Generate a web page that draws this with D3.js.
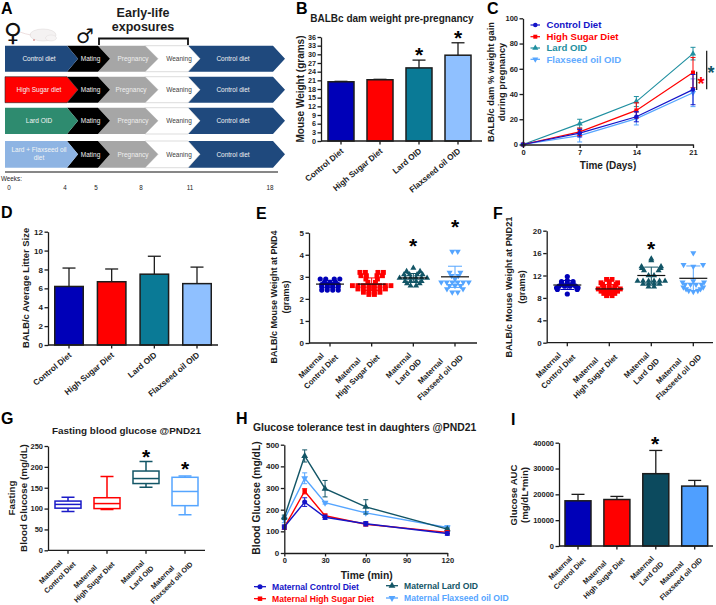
<!DOCTYPE html>
<html><head><meta charset="utf-8">
<script src="https://cdn.jsdelivr.net/npm/d3@7"></script>
<style>
html,body{margin:0;padding:0;background:#fff}
svg{display:block}
text{font-family:"Liberation Sans",Arial,sans-serif;fill:#1c1c1c}
</style></head><body>
<svg id="c" width="716" height="605"></svg>
<script>
// ---------- data ----------
const dietCats = ["Control Diet","High Sugar Diet","Lard OID","Flaxseed oil OID"];
const matCats = [["Maternal","Control Diet"],["Maternal","High Sugar Diet"],["Maternal","Lard OID"],["Maternal","Flaxseed oil OID"]];
const damWeight = [20.5,21.2,25.3,29.7];
const damWeightTop = [20.65,21.35,28,34];
const litter = [6.2,6.7,7.5,6.5];
const litterTop = [8.15,8.05,9.4,8.25];
const auc = [17500,18000,28000,23200];
const aucTop = [20000,19200,37000,25400];
const gainDays = [0,7,14,21];
const gainControl = [0,9,22,43.5], gainControlSd = [0,3,4,12];
const gainSugar = [0,10,27,57], gainSugarSd = [0,3,6,12];
const gainLard = [0,16.5,34,72], gainLardSd = [0,3.5,4,5];
const gainFlax = [0,7,20.5,41], gainFlaxSd = [0,5,5,11];
const pnd4Control = [2.9,2.9,2.9,2.9,2.75,2.75,2.75,2.65,2.65,2.65,2.65,2.55,2.55,2.55,2.55,2.4,2.4,2.4,2.4];
const pnd4Sugar = [3.2,3.2,3.2,3.2,3.05,3.05,3.05,3.05,2.9,2.9,2.75,2.75,2.6,2.6,2.6,2.6,2.6,2.6,2.6,2.6,2.45,2.45,2.45,2.45,2.45,2.45,2.3,2.3,2.3,2.3,2.2,2.2];
const pnd4Lard = [3.4,3.25,3.25,3.1,3.1,3.1,3.1,2.95,2.95,2.95,2.95,2.95,2.95,2.8,2.8,2.8,2.8,2.7,2.7,2.6,2.6];
const pnd4Flax = [4.15,4.15,3.2,3.2,3.05,3.05,2.9,2.75,2.75,2.75,2.75,2.75,2.75,2.6,2.6,2.6,2.45,2.45,2.3,2.3];
const pnd4Stats = [[2.67,0.17],[2.67,0.28],[2.95,0.2],[3.0,0.48]];
const pnd21Control = [11.8,11.1,10.9,10.9,10.6,10.6,10.6,10.4,10.4,10.4,10.1,10.1,10.1,10.1,9.8,9.8,9.5,9.5,8.7];
const pnd21Sugar = [11.3,11.3,10.9,10.7,10.7,10.4,10.4,10,10,10,9.6,9.6,9.6,9.6,9.6,9.2,9.2,9.2,9.2,8.8,8.8,8.8,8.4,8.4];
const pnd21Lard = [15,14.7,13.6,13.6,13.3,13.3,12.9,12.9,12,12,11,11,11,11,11,11,10.5,10.5,10.5,10.5,10,10];
const pnd21Flax = [16,13.9,13.9,13.6,11,10.8,10.8,10.4,10.4,10.4,10.4,9.9,9.9,9.6,9.6,9.3,9.3,9.1];
const pnd21Stats = [[10.3,0.8],[9.6,0.8],[12,1.5],[11.5,2.2]];
const fastingBoxes = [[93,101,110,118,127],[98,100,112,126,177],[151,160,172,190,213],[85,107,141,175,178]];
const gttTimes = [0,15,30,60,120];
const gttControl = [120,235,165,135,90], gttControlErr = [10,20,10,10,8];
const gttSugar = [118,285,172,133,95], gttSugarErr = [8,12,8,8,5];
const gttLard = [165,448,297,213,110], gttLardErr = [10,28,38,33,5];
const gttFlax = [155,345,232,185,118], gttFlaxErr = [15,25,6,5,8];
const scheduleDiets = ["Control diet","High Sugar diet","Lard OID","Lard + Flaxseed oil diet"];
const scheduleStages = ["Mating","Pregnancy","Weaning","Control diet"];
const weekLabels = [0,4,5,8,11,18];

// ---------- shared ----------
const svg = d3.select("#c");
const BLUE="#0000b8",RED="#ff0000",TEAL="#0a7a96",SKY="#8fc0ff",DTEAL="#125566",LBLUE="#55a5ff",INK="#1c1c1c";
const sw=1.3;
function txt(x,y,s,size,o={}){
  const t=svg.append("text").attr("x",x).attr("y",y).text(s).attr("font-size",size)
    .attr("font-weight",o.weight||"bold").attr("text-anchor",o.anchor||"start");
  if(o.fill)t.style("fill",o.fill);
  if(o.rot!=null)t.attr("transform",`rotate(${o.rot},${x},${y})`);
  if(o.family)t.style("font-family",o.family);
  return t;
}
function star(x,y,fill,size){
  const s=size||21;
  txt(x,y+s*0.47,"*",s,{anchor:"middle",fill:fill||"#000"});
}
function styleAxis(g,fs){
  g.selectAll("path,line").attr("stroke",INK).attr("stroke-width",sw);
  g.selectAll("text").attr("font-size",fs).attr("font-weight","bold").style("fill",INK).attr("font-family",null);
}
function yAxis(xPos,scale,ticks,fs){
  const a=d3.axisLeft(scale).tickValues(ticks).tickSize(3.5).tickPadding(1.5).tickSizeOuter(0).tickFormat(d3.format("d"));
  const g=svg.append("g").attr("transform",`translate(${xPos},0)`).call(a);
  styleAxis(g,fs);
}
function catAxis(yPos,xs,x0,xEnd,labels,fs,two){
  svg.append("line").attr("x1",x0).attr("x2",xEnd).attr("y1",yPos).attr("y2",yPos).attr("stroke",INK).attr("stroke-width",sw);
  const g=svg.append("g");
  labels.forEach((l,i)=>{
    const cx=xs(i);
    g.append("line").attr("x1",cx).attr("x2",cx).attr("y1",yPos).attr("y2",yPos+3.5).attr("stroke",INK).attr("stroke-width",sw);
    if(two){
      const b=g.append("g");
      const lh=fs*1.45;
      const ts=l.map((s,k)=>b.append("text").text(s).attr("font-size",fs).attr("font-weight","bold")
        .attr("text-anchor","middle").attr("y",(k==0?-lh/2:lh/2)+fs*0.35));
      const L=ts.map(t=>t.node().getComputedTextLength());
      const m=d3.max(L);
      ts[0].attr("x",-m/2-2.5);
      ts[1].attr("x",-m/2);
      const down=L[0]>=L[1]-3?4:0;
      b.attr("transform",`translate(${cx+2.6},${yPos+9+down}) rotate(-45)`);
    } else {
      txt(cx+3,yPos+11,l,fs,{anchor:"end",rot:-40});
    }
  });
}
function barPanel(o){
  const y=d3.scaleLinear().domain(o.dom).range([o.y0,o.yT]);
  const xs=d3.scalePoint().domain(d3.range(o.vals.length)).range([o.c0,o.c3]);
  const g=svg.append("g");
  g.selectAll("line.e").data(o.vals).join("line").attr("class","e").attr("x1",(d,i)=>xs(i)).attr("x2",(d,i)=>xs(i))
    .attr("y1",d=>y(d)).attr("y2",(d,i)=>y(o.tops[i])).attr("stroke",INK).attr("stroke-width",sw);
  g.selectAll("line.c").data(o.tops).join("line").attr("class","c").attr("x1",(d,i)=>xs(i)-6.5).attr("x2",(d,i)=>xs(i)+6.5)
    .attr("y1",d=>y(d)).attr("y2",d=>y(d)).attr("stroke",INK).attr("stroke-width",sw);
  g.selectAll("rect").data(o.vals).join("rect").attr("x",(d,i)=>xs(i)-o.w/2).attr("width",o.w)
    .attr("y",d=>y(d)).attr("height",d=>o.y0-y(d)).attr("fill",(d,i)=>o.colors[i]).attr("stroke",INK).attr("stroke-width",1.5);
  yAxis(o.ax,y,o.ticks,o.tfs);
  catAxis(o.y0,xs,o.ax,o.end,o.cats,o.cfs,o.two);
}
function sym(type,size){return d3.symbol().type(type).size(size)();}
const triDown=d3.symbolTriangle;

// ---------- A: schedule ----------
(function(){
  const rows=[[45.7,71.7],[76.7,102.7],[107.7,134],[141,167.7]];
  const firstCol=["#1f497d","#ff0000","#2e8b6f","#8eb4e3"];
  const tips=[78,110,158,200,285], sh=[67,98,145,188,273];
  const stageCol=["#000","#a6a6a6","#ffffff","#1f497d"];
  const stageTxt=["#f2f2f2","#efefef","#404040","#f2f2f2"];
  const stageCx=[90.5,133,179,233];
  const line=d3.line();
  rows.forEach((r,ri)=>{
    const [t,b]=r,m=(t+b)/2;
    for(let s=3;s>=0;s--){
      const p=[[sh[s],t],[sh[s+1],t],[tips[s+1],m],[sh[s+1],b],[sh[s],b],[tips[s],m]];
      svg.append("path").attr("d",line(p)+"Z").attr("fill",stageCol[s]).attr("stroke",s==2?"#bbb":"none").attr("stroke-width",.5);
      if(s>0)txt(stageCx[s]-(ri==1&&s==1?2:0),m+2.2,scheduleStages[s],6.5,{anchor:"middle",weight:"normal",fill:stageTxt[s]});
    }
    const p0=[[5,t],[sh[0],t],[tips[0],m],[sh[0],b],[5,b]];
    svg.append("path").attr("d",line(p0)+"Z").attr("fill",firstCol[ri]).attr("stroke",ri==1?"#222":"none").attr("stroke-width",.6);
    if(ri==3){
      txt(39,m-2.5,"Lard + Flaxseed oil",6.5,{anchor:"middle",weight:"normal",fill:"#f4f4f4"});
      txt(39,m+6,"diet",6.5,{anchor:"middle",weight:"normal",fill:"#f4f4f4"});
    } else txt(39,m+2.2,scheduleDiets[ri],6.5,{anchor:"middle",weight:"normal",fill:"#f4f4f4"});
    txt(stageCx[0],m+2.2,scheduleStages[0],6.5,{anchor:"middle",weight:"normal",fill:stageTxt[0]});
  });
  svg.append("line").attr("x1",5).attr("x2",278).attr("y1",172).attr("y2",172).attr("stroke","#111").attr("stroke-width",1.2);
  txt(1,181,"Weeks:",6.3,{weight:"normal"});
  const wx=d3.scaleOrdinal().domain(weekLabels).range([9,65,96,141,190,270]);
  weekLabels.forEach(w=>txt(wx(w),190,w,6.3,{anchor:"middle",weight:"normal"}));
  txt(143,17,"Early-life",12.5,{anchor:"middle"});
  txt(143,31,"exposures",12.5,{anchor:"middle"});
  svg.append("path").attr("d","M99,45V38.5H188V45").attr("fill","none").attr("stroke","#111").attr("stroke-width",1.8);
  txt(13,41,"\u2640",25,{anchor:"middle",family:"DejaVu Sans",fill:"#111"});
  txt(85,43,"\u2642",20,{anchor:"middle",family:"DejaVu Sans",fill:"#111"});
  svg.append("ellipse").attr("cx",43).attr("cy",35).attr("rx",13).attr("ry",6).attr("fill","#f4f2f2").attr("stroke","#e0dcdc").attr("stroke-width",.6);
  svg.append("ellipse").attr("cx",51).attr("cy",38).attr("rx",5.5).attr("ry",3).attr("fill","#f6f4f4").attr("stroke","#e0dcdc").attr("stroke-width",.5);
  svg.append("path").attr("d","M31,35Q25,34 20,32").attr("fill","none").attr("stroke","#e6d2d2").attr("stroke-width",.7);
  svg.append("circle").attr("cx",34).attr("cy",40).attr("r",1).attr("fill","#d89a9a");
})();

// panel letters
[["A",1,14],["B",296,14],["C",487,14],["D",1,218],["E",256,218.5],["F",493,219],["G",1,424],["H",236,424],["I",511,425]]
  .forEach(d=>txt(d[1],d[2],d[0],16,{fill:"#000"}));

// ---------- B ----------
txt(392,22,"BALBc dam weight pre-pregnancy",10,{anchor:"middle"});
barPanel({dom:[0,36],y0:141,yT:37,c0:341,c3:458,w:26,vals:damWeight,tops:damWeightTop,
  colors:[BLUE,RED,TEAL,SKY],ax:321,end:482,ticks:d3.range(0,37,3),tfs:7.2,cats:dietCats,cfs:8.2});
txt(304,89,"Mouse Weight (grams)",10,{anchor:"middle",rot:-90});
star(419,52);star(458,35);

// ---------- C ----------
(function(){
  const x=d3.scaleLinear().domain([0,21]).range([523,693]);
  const y=d3.scaleLinear().domain([0,100]).range([144.5,18.3]);
  const ser=[[gainFlax,gainFlaxSd,LBLUE,triDown,"Flaxseed oil OID",true,"#63abff"],[gainLard,gainLardSd,"#1f8fa0",d3.symbolTriangle,"Lard OID",false,"#1f8fa0"],
             [gainSugar,gainSugarSd,RED,d3.symbolSquare,"High Sugar Diet",false,RED],[gainControl,gainControlSd,"#1414c8",d3.symbolCircle,"Control Diet",false,"#1414c8"]];
  ser.forEach(s=>{
    const g=svg.append("g");
    gainDays.forEach((d,i)=>{
      if(s[1][i]==0)return;
      const X=x(d),a=y(s[0][i]-s[1][i]),b=y(s[0][i]+s[1][i]);
      g.append("path").attr("d",`M${X-2.5},${a}H${X+2.5}M${X},${a}V${b}M${X-2.5},${b}H${X+2.5}`).attr("fill","none").attr("stroke",s[2]).attr("stroke-width",1);
    });
    g.append("path").attr("d",d3.line().x((d,i)=>x(gainDays[i])).y(d=>y(d))(s[0])).attr("fill","none").attr("stroke",s[2]).attr("stroke-width",1.2);
    s[0].forEach((v,i)=>g.append("path").attr("d",sym(s[3],16)).attr("fill",s[2])
      .attr("transform",`translate(${x(gainDays[i])},${y(v)})${s[5]?" rotate(180)":""}`));
  });
  yAxis(523,y,[0,20,40,60,80,100],7.5);
  const ga=svg.append("g").attr("transform","translate(0,144.5)").call(d3.axisBottom(x).tickValues(gainDays).tickFormat(d3.format("d")).tickSize(3.5).tickPadding(1.5).tickSizeOuter(0));
  styleAxis(ga,7.5);
  ser.slice().reverse().forEach((s,i)=>{
    const Y=[25,36.7,48,59.3][i];
    svg.append("line").attr("x1",530.5).attr("x2",540).attr("y1",Y).attr("y2",Y).attr("stroke",s[2]).attr("stroke-width",1.2);
    svg.append("path").attr("d",sym(s[3],16)).attr("fill",s[2]).attr("transform",`translate(535.3,${Y})${s[5]?" rotate(180)":""}`);
    txt(546.5,Y+3.3,s[4],9.6,{fill:s[6]});
  });
  txt(608,168.5,"Time (Days)",10,{anchor:"middle"});
  txt(494,82,"BALB/c dam % weight gain",9.3,{anchor:"middle",rot:-90});
  txt(505,82,"during pregnancy",9.3,{anchor:"middle",rot:-90});
  svg.append("line").attr("x1",696.7).attr("x2",696.7).attr("y1",71.7).attr("y2",90).attr("stroke","#111").attr("stroke-width",1.2);
  svg.append("line").attr("x1",706.7).attr("x2",706.7).attr("y1",50.7).attr("y2",89.3).attr("stroke","#111").attr("stroke-width",1.2);
  star(701,82,RED,18);star(711,71,"#125566",18);
})();

// ---------- D ----------
barPanel({dom:[0,12],y0:345,yT:231.7,c0:69,c3:197,w:28.5,vals:litter,tops:litterTop,
  colors:[BLUE,RED,TEAL,SKY],ax:48,end:218,ticks:[0,2,4,6,8,10,12],tfs:8,cats:dietCats,cfs:8.2});
txt(29,288,"BALB/c Average Litter Size",9.4,{anchor:"middle",rot:-90});

// ---------- E, F scatter ----------
function swarmPanel(o){
  const y=d3.scaleLinear().domain(o.dom).range([o.y0,o.yT]);
  const xs=d3.scalePoint().domain([0,1,2,3]).range([o.c0,o.c3]);
  const types=[d3.symbolCircle,d3.symbolSquare,d3.symbolTriangle,d3.symbolTriangle];
  const sizes=[21,24,16,16];
  const cols=[BLUE,RED,DTEAL,LBLUE];
  o.series.forEach((vals,i)=>{
    const g=svg.append("g");
    const [m,sd]=o.stats[i];
    const X=xs(i),lo=d3.min(vals);
    d3.groups(vals,v=>v).forEach(([v,arr])=>{
      const n=arr.length;
      let hole=0;
      if(n%2==0&&v>m&&v-m<2*sd) hole=Math.min((y(m)-y(v))*o.hole,7)/(n>2?2:1);
      if(n==2&&v<m) hole=Math.min((y(lo)-y(v))*1.6,8);
      arr.forEach((_,k)=>{
        let dx;
        if(n%2==1) dx=(k-(n-1)/2)*o.step;
        else {const side=k%2?1:-1,idx=Math.floor(k/2);dx=side*(hole+o.step/2+idx*o.step);}
        g.append("path").attr("d",sym(types[i],sizes[i])).attr("fill",cols[i])
         .attr("transform",`translate(${X+dx},${y(v)})${i==3?" rotate(180)":""}`);
      });
    });
    g.append("path").attr("d",`M${X-7},${y(m-sd)}H${X+7}M${X},${y(m-sd)}V${y(m+sd)}M${X-7},${y(m+sd)}H${X+7}`)
      .attr("fill","none").attr("stroke",cols[i]).attr("stroke-width",1);
    g.append("line").attr("x1",X-14).attr("x2",X+14).attr("y1",y(m)).attr("y2",y(m)).attr("stroke","#111").attr("stroke-width",1.2);
  });
  yAxis(o.ax,y,o.ticks,8);
  catAxis(o.y0,xs,o.ax,o.end,matCats,7.8,true);
}
swarmPanel({dom:[0,5],y0:343,yT:232.7,c0:330,c3:455,ax:309,end:477,ticks:[0,1,2,3,4,5],step:5.5,hole:0.6,
  series:[pnd4Control,pnd4Sugar,pnd4Lard,pnd4Flax],stats:pnd4Stats});
txt(277,297,"BALB/c Mouse Weight at PND4",9,{anchor:"middle",rot:-90});
txt(289,297,"(grams)",9,{anchor:"middle",rot:-90});
star(413,243);star(455,224);
swarmPanel({dom:[0,20],y0:342.7,yT:230.7,c0:567.3,c3:693.3,ax:546.7,end:713,ticks:[0,4,8,12,16,20],step:5.5,hole:0.9,
  series:[pnd21Control,pnd21Sugar,pnd21Lard,pnd21Flax],stats:pnd21Stats});
txt(512,287,"BALB/c Mouse Weight at PND21",9.2,{anchor:"middle",rot:-90});
txt(524.5,287,"(grams)",9.2,{anchor:"middle",rot:-90});
star(651,246);

// ---------- G ----------
(function(){
  const y=d3.scaleLinear().domain([0,250]).range([550.3,446]);
  const xs=d3.scalePoint().domain([0,1,2,3]).range([68,185]);
  const cols=["#1a1ac8",RED,DTEAL,LBLUE];
  fastingBoxes.forEach((b,i)=>{
    const X=xs(i),c=cols[i],g=svg.append("g").attr("fill","none").attr("stroke",c).attr("stroke-width",1.5);
    g.append("path").attr("d",`M${X-6.5},${y(b[0])}H${X+6.5}M${X},${y(b[0])}V${y(b[1])}M${X},${y(b[3])}V${y(b[4])}M${X-6.5},${y(b[4])}H${X+6.5}`);
    g.append("rect").attr("x",X-13).attr("width",26).attr("y",y(b[3])).attr("height",y(b[1])-y(b[3]));
    g.append("line").attr("x1",X-13).attr("x2",X+13).attr("y1",y(b[2])).attr("y2",y(b[2]));
  });
  yAxis(48,y,[0,50,100,150,200,250],7.5);
  catAxis(550.3,xs,48,205,matCats,7.2,true);
  txt(126.5,434,"Fasting blood glucose @PND21",9.9,{anchor:"middle"});
  txt(15,498,"Fasting",9.8,{anchor:"middle",rot:-90});
  txt(26.5,498,"Blood Glucose (mg/dL)",9.8,{anchor:"middle",rot:-90});
  star(146,454);star(185,466);
})();

// ---------- H ----------
(function(){
  const x=d3.scaleLinear().domain([0,120]).range([284.3,447.3]);
  const y=d3.scaleLinear().domain([0,500]).range([553,444.7]);
  const ser=[[gttFlax,gttFlaxErr,LBLUE,d3.symbolTriangle,"Maternal Flaxseed oil OID",true],
    [gttLard,gttLardErr,DTEAL,d3.symbolTriangle,"Maternal Lard OID",false],
    [gttSugar,gttSugarErr,RED,d3.symbolSquare,"Maternal High Sugar Diet",false],
    [gttControl,gttControlErr,"#1414c8",d3.symbolCircle,"Maternal Control Diet",false]];
  ser.forEach(s=>{
    const g=svg.append("g");
    gttTimes.forEach((d,i)=>{
      const X=x(d),a=y(s[0][i]-s[1][i]),b=y(s[0][i]+s[1][i]);
      g.append("path").attr("d",`M${X-2.5},${a}H${X+2.5}M${X},${a}V${b}M${X-2.5},${b}H${X+2.5}`).attr("fill","none").attr("stroke",s[2]).attr("stroke-width",1);
    });
    g.append("path").attr("d",d3.line().x((d,i)=>x(gttTimes[i])).y(d=>y(d))(s[0])).attr("fill","none").attr("stroke",s[2]).attr("stroke-width",1.4);
    s[0].forEach((v,i)=>g.append("path").attr("d",sym(s[3],20)).attr("fill",s[2])
      .attr("transform",`translate(${x(gttTimes[i])},${y(v)})${s[5]?" rotate(180)":""}`));
  });
  yAxis(284.3,y,[0,100,200,300,400,500],8);
  const ga=svg.append("g").attr("transform","translate(0,553)").call(d3.axisBottom(x).tickValues([0,30,60,90,120]).tickSize(3.5).tickPadding(1.5).tickSizeOuter(0));
  styleAxis(ga,7.5);
  txt(253,431,"Glucose tolerance test in daughters @PND21",10.4,{});
  txt(260,498,"Blood Glucose (mg/dL)",10.3,{anchor:"middle",rot:-90});
  txt(366.7,579,"Time (min)",10.3,{anchor:"middle"});
  const leg=[[ser[3],254,586.7,272,"#1414c8"],[ser[2],254,598.7,272,RED],[ser[1],386,585.7,404,DTEAL],[ser[0],386,598,404,LBLUE]];
  leg.forEach(l=>{
    const s=l[0];
    svg.append("line").attr("x1",l[1]).attr("x2",l[1]+12).attr("y1",l[2]).attr("y2",l[2]).attr("stroke",s[2]).attr("stroke-width",1.3);
    svg.append("path").attr("d",sym(s[3],20)).attr("fill",s[2]).attr("transform",`translate(${l[1]+6},${l[2]})${s[5]?" rotate(180)":""}`);
    txt(l[3],l[2]+3,s[4],8.6,{fill:l[4]});
  });
})();

// ---------- I ----------
barPanel({dom:[0,40000],y0:546,yT:442.7,c0:578,c3:694.7,w:26,vals:auc,tops:aucTop,
  colors:[BLUE,RED,"#0c4a5e","#4f9fff"],ax:559,end:713,ticks:[0,10000,20000,30000,40000],tfs:7.5,cats:matCats,cfs:7.3,two:true});
txt(516.5,495,"Glucose AUC",9.6,{anchor:"middle",rot:-90});
txt(528,495,"(mg/dL*min)",9.6,{anchor:"middle",rot:-90});
star(655,441);
</script>
</body></html>
